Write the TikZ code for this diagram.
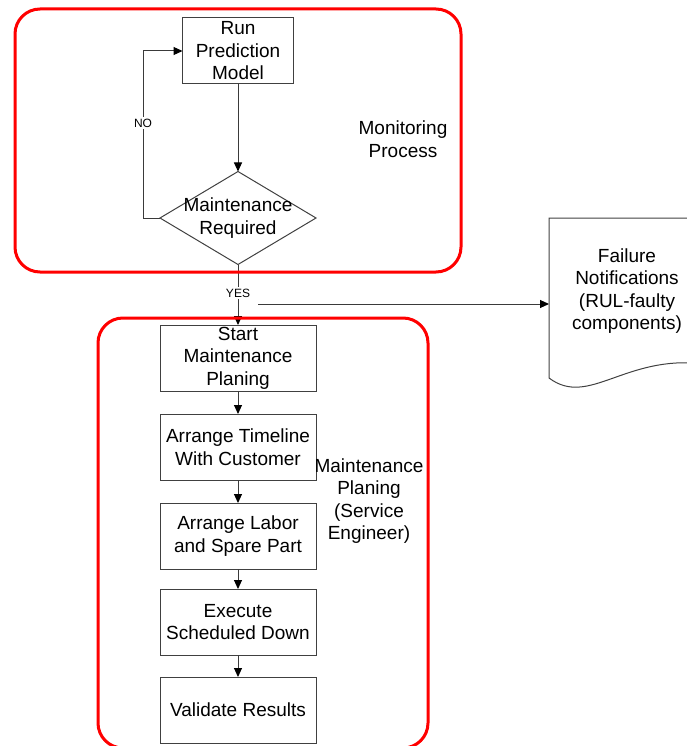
\documentclass[tikz,border=0pt]{standalone}
\usepackage{fontspec}
\setmainfont{Liberation Sans}
\usetikzlibrary{arrows.meta,shapes.geometric}
\definecolor{boxgray}{HTML}{404040}
\definecolor{linegray}{HTML}{3A3A3A}
\begin{document}
\begin{tikzpicture}[x=1pt,y=-1pt,
  every node/.style={font=\fontsize{19}{22.5}\selectfont, inner sep=0pt, outer sep=0pt},
  stepbox/.style={draw=boxgray, line width=1pt, minimum width=156pt, minimum height=66pt, align=center},
  decision/.style={draw=boxgray, line width=1pt, diamond, minimum width=156pt, minimum height=93pt},
  group/.style={draw=red, line width=3pt, rounded corners=25pt},
  flow/.style={draw=linegray, line width=1pt, -{Triangle[length=9pt,width=8pt,color=black]}},
  tag/.style={font=\fontsize{12}{14}\selectfont, fill=white, inner sep=1.5pt},
  caption/.style={align=center},
  docline/.style={draw=boxgray, line width=1pt}
]
\useasboundingbox (0,0) rectangle (686,746);

% process steps
\node[stepbox, minimum width=111pt] (run) at (238,51) {Run\\Prediction\\Model};
\node[decision] (dec) at (238,218) {};
\node[caption] (dectext) at (238,218) {Maintenance\\Required};

\node[stepbox] (start)    at (238,358) {Start\\Maintenance\\Planing};
\node[stepbox] (timeline) at (238,447) {Arrange Timeline\\With Customer};
\node[stepbox] (labor)    at (238,536) {Arrange Labor\\and Spare Part};
\node[stepbox] (execute)  at (238,622) {Execute\\Scheduled Down};
\node[stepbox] (validate) at (238,710) {Validate Results};

% document symbol for the notifications
\node[minimum width=156pt, minimum height=160pt] (notice) at (627,298) {};
\draw[docline] (notice.south west) -- (notice.north west) -- (notice.north east)
  -- ++(0,146) .. controls +(-80,-10) and +(40,30) .. (notice.south west);
\node[caption] (noticetext) at (627,291) {Failure\\Notifications\\(RUL-faulty\\components)};

% connectors
\draw[flow] (run) -- (dec);
\draw[flow] (dec.west) -- ++(-17,0) |- (run.west);
\node[tag] (no) at (143,123) {NO};
\draw[flow] (dec.south) -- (start.north);
\node[tag] (yes) at (238,293) {YES};
\coordinate (fork) at (258,304);
\draw[flow] (fork) -- (notice.west |- fork);
\draw[flow] (start) -- (timeline);
\draw[flow] (timeline) -- (labor);
\draw[flow] (labor) -- (execute);
\draw[flow] (execute) -- (validate);

% group frames
\node[group, minimum width=446pt, minimum height=263pt] (monitor) at (238,140.5) {};
\node[caption] (monitorlabel) at (403,139) {Monitoring\\Process};
\node[group, minimum width=330pt, minimum height=430pt] (planning) at (263,533) {};
\node[caption] (planninglabel) at (369,501) {Maintenance\\Planing\\(Service\\Engineer)};
\end{tikzpicture}
\end{document}
